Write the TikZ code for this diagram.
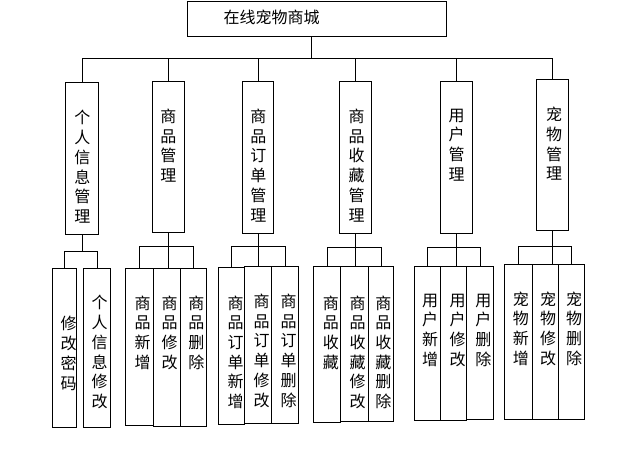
\documentclass[tikz,border=0pt]{standalone}
\usepackage{fontspec}
\newfontfamily\cjk{Noto Sans CJK SC}
\usetikzlibrary{positioning,calc}

\begin{document}
\begin{tikzpicture}[
        x=0.75pt, y=-0.75pt,
        line width=0.8pt,
        box/.style 2 args={rectangle, draw, inner sep=0pt, anchor=north west,
            minimum width=#1*0.75pt, minimum height=#2*0.75pt},
        vtext/.style={inner sep=0pt, anchor=north, align=center,
            font=\cjk\fontsize{12}{14.8}\selectfont}
    ]
    \useasboundingbox (0,0) rectangle (618,471);

    % root
    \node[box={259}{35}] (mall) at (187,1) {};
    \node[inner sep=0pt, anchor=west, font=\cjk\fontsize{12}{14.8}\selectfont] (malltxt) at (223,17) {在线宠物商城};

    % modules
    \node[box={33}{152}] (info) at (65.3,82.3) {};
    \node[box={32.6}{151}] (goods) at (151.7,81.3) {};
    \node[box={31.6}{152}] (order) at (241.7,81.3) {};
    \node[box={32}{152}] (fav) at (339.3,81.3) {};
    \node[box={32}{152}] (user) at (440.3,81.3) {};
    \node[box={32}{151}] (pet) at (536.3,79.3) {};

    \node[vtext] (infot) at (82.3,110) {个\\人\\信\\息\\管\\理};
    \node[vtext] (goodst) at (168.3,108.3) {商\\品\\管\\理};
    \node[vtext] (ordert) at (258.3,108.3) {商\\品\\订\\单\\管\\理};
    \node[vtext] (favt) at (356.7,108.3) {商\\品\\收\\藏\\管\\理};
    \node[vtext] (usert) at (456.7,108.3) {用\\户\\管\\理};
    \node[vtext] (pett) at (554,106.7) {宠\\物\\管\\理};

    % functions
    \node[box={24.6}{159}] (pwd) at (51.7,268.3) {};
    \node[box={27.6}{159}] (infoedit) at (82.7,268.3) {};

    \node[box={27.4}{157}] (goodsadd) at (125.3,268.3) {};
    \node[box={27}{158}] (goodsedit) at (152.7,268.3) {};
    \node[box={26.6}{158}] (goodsdel) at (179.7,268.3) {};

    \node[box={26}{157}] (orderadd) at (218.3,267.3) {};
    \node[box={27}{157.3}] (orderedit) at (244.3,266) {};
    \node[box={27}{157.3}] (orderdel) at (271.3,266) {};

    \node[box={27}{156.3}] (favadd) at (313.3,266) {};
    \node[box={27.4}{155}] (favedit) at (340.3,266) {};
    \node[box={25.6}{155}] (favdel) at (367.7,266) {};

    \node[box={26.6}{154.3}] (useradd) at (413.7,266) {};
    \node[box={26}{154.3}] (useredit) at (440.3,266) {};
    \node[box={27}{153.3}] (userdel) at (466.3,266) {};

    \node[box={27.4}{155}] (petadd) at (504.3,264.3) {};
    \node[box={26}{155}] (petedit) at (531.7,264.3) {};
    \node[box={26.6}{155}] (petdel) at (557.7,264.3) {};

    \node[vtext] (pwdt) at (68.5,316) {修\\改\\密\\码};
    \node[vtext] (infoeditt) at (99.5,295) {个\\人\\信\\息\\修\\改};
    \node[vtext] (goodsaddt) at (142.5,295) {商\\品\\新\\增};
    \node[vtext] (goodseditt) at (169.7,295) {商\\品\\修\\改};
    \node[vtext] (goodsdelt) at (196.3,295) {商\\品\\删\\除};
    \node[vtext] (orderaddt) at (235.5,295) {商\\品\\订\\单\\新\\增};
    \node[vtext] (ordereditt) at (261.5,293.3) {商\\品\\订\\单\\修\\改};
    \node[vtext] (orderdelt) at (288.5,293.3) {商\\品\\订\\单\\删\\除};
    \node[vtext] (favaddt) at (330.8,295) {商\\品\\收\\藏};
    \node[vtext] (faveditt) at (357.5,295) {商\\品\\收\\藏\\修\\改};
    \node[vtext] (favdelt) at (383.3,295) {商\\品\\收\\藏\\删\\除};
    \node[vtext] (useraddt) at (430,293.3) {用\\户\\新\\增};
    \node[vtext] (usereditt) at (457.5,293.3) {用\\户\\修\\改};
    \node[vtext] (userdelt) at (483.3,293.3) {用\\户\\删\\除};
    \node[vtext] (petaddt) at (520.8,291) {宠\\物\\新\\增};
    \node[vtext] (peteditt) at (548.2,291) {宠\\物\\修\\改};
    \node[vtext] (petdelt) at (574.2,291) {宠\\物\\删\\除};

    % root to modules
    \coordinate (bus) at (311.7,58.5);
    \draw (mall.south -| bus) -- (bus);
    \draw (info.north) -- (info.north |- bus) -- (pet.north |- bus) -- (pet.north);
    \draw (goods.north) -- (goods.north |- bus);
    \draw (order.north) -- (order.north |- bus);
    \draw (fav.north) -- (fav.north |- bus);
    \draw (user.north) -- (user.north |- bus);

    % modules to functions
    \coordinate (h1) at (0,251.5);
    \draw (info.south) -- (info.south |- h1);
    \draw (pwd.north) -- (pwd.north |- h1) -- (infoedit.north |- h1) -- (infoedit.north);

    \coordinate (h2) at (0,246.5);
    \draw (goods.south) -- (goods.south |- goodsedit.north);
    \draw (goodsadd.north) -- (goodsadd.north |- h2) -- (goodsdel.north |- h2) -- (goodsdel.north);

    \coordinate (h3) at (0,246.5);
    \draw (order.south) -- (order.south |- orderedit.north);
    \draw (orderadd.north) -- (orderadd.north |- h3) -- (orderdel.north |- h3) -- (orderdel.north);

    \coordinate (h4) at (0,247.5);
    \draw (fav.south) -- (fav.south |- favedit.north);
    \draw (favadd.north) -- (favadd.north |- h4) -- (favdel.north |- h4) -- (favdel.north);

    \coordinate (h5) at (0,247.5);
    \draw (user.south) -- (user.south |- useredit.north);
    \draw (useradd.north) -- (useradd.north |- h5) -- (userdel.north |- h5) -- (userdel.north);

    \coordinate (h6) at (0,246.5);
    \draw (pet.south) -- (pet.south |- petedit.north);
    \draw (petadd.north) -- (petadd.north |- h6) -- (petdel.north |- h6) -- (petdel.north);
\end{tikzpicture}
\end{document}
